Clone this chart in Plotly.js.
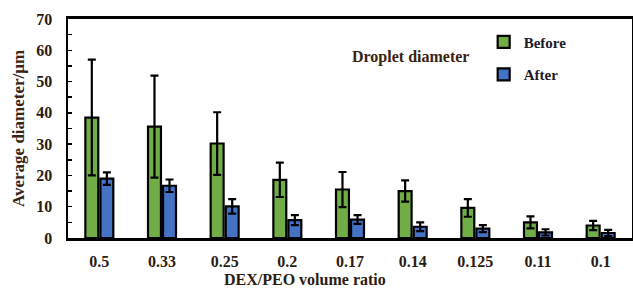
<!DOCTYPE html>
<html><head><meta charset="utf-8">
<script src="https://cdn.plot.ly/plotly-3.0.1.min.js"></script>
<style>html,body{margin:0;padding:0;background:#fff}</style>
</head><body><div id="chart" style="width:633px;height:290px"></div>
<script>
const categories = ['0.5','0.33','0.25','0.2','0.17','0.14','0.125','0.11','0.1'];
const beforeVals = [38.5, 35.6, 30.2, 18.6, 15.5, 15.0, 9.6, 5.0, 4.0];
const beforeErr  = [18.5, 16.3, 10.0, 5.5, 5.6, 3.4, 2.8, 1.9, 1.5];
const afterVals  = [19.0, 16.7, 10.1, 5.7, 5.9, 3.6, 3.0, 1.8, 1.6];
const afterErr   = [2.0, 2.0, 2.3, 1.6, 1.4, 1.4, 1.1, 1.0, 1.0];
const serif = 'Liberation Serif';
const txt = '#2b1c12';

const traces = [
  {type:'bar', name:'Before', x:categories, y:beforeVals, legendgroup:'a',
   marker:{color:'#70AD47', line:{color:'#000', width:2.2}},
   error_y:{type:'data', array:beforeErr, visible:true, color:'#000', thickness:2.2, width:4}},
  {type:'bar', name:'After', x:categories, y:afterVals, legendgroup:'b',
   marker:{color:'#4472C4', line:{color:'#000', width:2.2}},
   error_y:{type:'data', array:afterErr, visible:true, color:'#000', thickness:2.2, width:4}}
];

const layout = {
  width:633, height:290,
  margin:{l:68, r:1, t:19, b:52},
  paper_bgcolor:'#fff', plot_bgcolor:'#fff',
  barmode:'group', bargap:0.52, bargroupgap:0.14,
  font:{family:serif, color:txt, size:15, weight:700},
  showlegend:true,
  legend:{x:0.737, y:0.97, xanchor:'left', yanchor:'top', bgcolor:'rgba(0,0,0,0)',
          font:{family:serif, size:15, color:'#1c1a2a', weight:700},
          traceorder:'grouped', tracegroupgap:10, itemwidth:30},
  xaxis:{type:'category', range:[-0.5,8.5], showline:true, linecolor:'#000', linewidth:3,
         mirror:true, ticks:'', showgrid:false, zeroline:false,
         tickfont:{family:serif, size:16, color:txt, weight:700}, ticklabelstandoff:7},
  yaxis:{range:[0,70], dtick:10, showline:true, linecolor:'#000', linewidth:2.5, mirror:true,
         ticks:'inside', ticklen:4, tickwidth:1.5, tickcolor:'#000',
         minor:{dtick:5, ticks:'inside', ticklen:4, tickwidth:1.5, tickcolor:'#000'},
         showgrid:false, zeroline:false,
         tickfont:{family:serif, size:16, color:txt, weight:700}, ticklabelstandoff:10,
         title:{text:'Average diameter/μm', standoff:8,
                font:{family:serif, size:17, color:'#3b2314', weight:700}}},
  annotations:[
    {text:'Droplet diameter', xref:'paper', yref:'paper', x:(410-68)/564, y:(238-57)/219,
     xanchor:'center', yanchor:'middle', showarrow:false,
     font:{family:serif, size:16, color:'#3b2314', weight:700}},
    {text:'DEX/PEO volume ratio', xref:'paper', yref:'paper', x:(305-68)/564, y:(238-279)/219,
     xanchor:'center', yanchor:'middle', showarrow:false,
     font:{family:serif, size:16, color:txt, weight:700}}
  ]
};
Plotly.newPlot('chart', traces, layout, {displayModeBar:false, staticPlot:true});
</script></body></html>
